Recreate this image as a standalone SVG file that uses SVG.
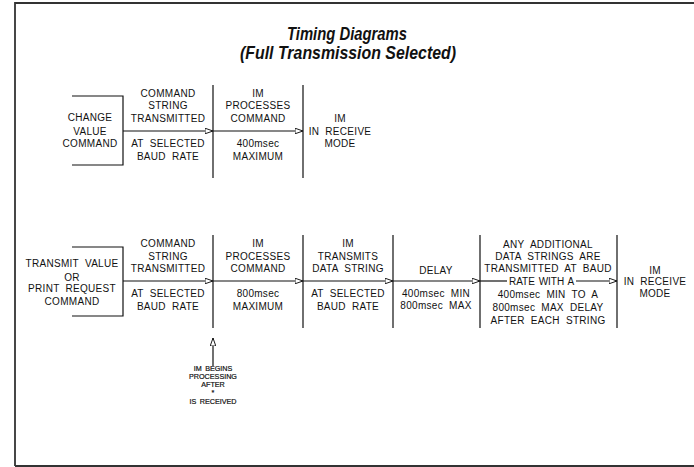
<svg xmlns="http://www.w3.org/2000/svg" width="694" height="467" viewBox="0 0 694 467">
<defs>
<style>
.t{font-family:"Liberation Sans",Arial,sans-serif;font-size:10px;fill:#111;text-anchor:middle;letter-spacing:0.3px;word-spacing:3px}
.s{font-family:"Liberation Sans",Arial,sans-serif;font-size:7.2px;fill:#111;text-anchor:middle;word-spacing:1.5px;stroke:#111;stroke-width:0.2}
.h{font-family:"Liberation Sans",Arial,sans-serif;font-size:18px;font-weight:bold;font-style:italic;fill:#111;text-anchor:middle}
.ln{stroke:#111;stroke-width:1.2;fill:none}
.ar{stroke:#111;stroke-width:1.2;fill:none;marker-end:url(#ah)}
</style>
<marker id="ah" viewBox="0 0 10 8" refX="10" refY="4" markerWidth="8" markerHeight="6.4" markerUnits="userSpaceOnUse" orient="auto">
<path d="M0,0.5 L10,4 L0,7.5 Z" fill="#fff" stroke="#111" stroke-width="1.2"/>
</marker>
</defs>
<rect x="0" y="0" width="694" height="467" fill="#fff"/>
<path d="M15,466 L15,3 L694,3 M15,466 L694,466" stroke="#333" stroke-width="1.8" fill="none"/>
<g id="title">
<text class="h" x="347" y="40" textLength="120" lengthAdjust="spacingAndGlyphs">Timing Diagrams</text>
<text class="h" x="348" y="59" textLength="216" lengthAdjust="spacingAndGlyphs">(Full Transmission Selected)</text>
</g>
<g id="connectors">
<path class="ln" d="M72,96 H123 V165 H72"/>
<path class="ln" d="M213,85 V178 M303,85 V178"/>
<path class="ar" d="M123,131 H213"/>
<path class="ar" d="M213,131 H303"/>
<path class="ln" d="M72,247 H123 V316 H72"/>
<path class="ln" d="M213,235 V328 M303,235 V328 M393,235 V328 M480,235 V328 M617,235 V328"/>
<path class="ar" d="M123,281 H213"/>
<path class="ar" d="M213,281 H303"/>
<path class="ar" d="M303,281 H393"/>
<path class="ar" d="M393,281 H480"/>
<path class="ln" d="M480,281 H507"/>
<path class="ar" d="M576,281 H617"/>
<path class="ar" d="M213,366 V338"/>
</g>
<g id="top-change">
<text class="t" x="90" y="121">CHANGE</text>
<text class="t" x="90" y="135">VALUE</text>
<text class="t" x="90" y="147">COMMAND</text>
</g>
<g id="top-command-string">
<text class="t" x="168" y="97">COMMAND</text>
<text class="t" x="168" y="109">STRING</text>
<text class="t" x="168" y="122">TRANSMITTED</text>
<text class="t" x="168" y="147">AT SELECTED</text>
<text class="t" x="168" y="160">BAUD RATE</text>
</g>
<g id="top-im-processes">
<text class="t" x="258" y="97">IM</text>
<text class="t" x="258" y="109">PROCESSES</text>
<text class="t" x="258" y="122">COMMAND</text>
<text class="t" x="258" y="147">400msec</text>
<text class="t" x="258" y="160">MAXIMUM</text>
</g>
<g id="top-im-receive">
<text class="t" x="340" y="122">IM</text>
<text class="t" x="340" y="135">IN RECEIVE</text>
<text class="t" x="340" y="147">MODE</text>
</g>
<g id="bot-transmit">
<text class="t" x="72" y="267">TRANSMIT VALUE</text>
<text class="t" x="72" y="281">OR</text>
<text class="t" x="72" y="292">PRINT REQUEST</text>
<text class="t" x="72" y="305">COMMAND</text>
</g>
<g id="bot-command-string">
<text class="t" x="168" y="247">COMMAND</text>
<text class="t" x="168" y="260">STRING</text>
<text class="t" x="168" y="272">TRANSMITTED</text>
<text class="t" x="168" y="297">AT SELECTED</text>
<text class="t" x="168" y="310">BAUD RATE</text>
</g>
<g id="bot-im-processes">
<text class="t" x="258" y="247">IM</text>
<text class="t" x="258" y="260">PROCESSES</text>
<text class="t" x="258" y="272">COMMAND</text>
<text class="t" x="258" y="297">800msec</text>
<text class="t" x="258" y="310">MAXIMUM</text>
</g>
<g id="bot-im-transmits">
<text class="t" x="348" y="247">IM</text>
<text class="t" x="348" y="260">TRANSMITS</text>
<text class="t" x="348" y="272">DATA STRING</text>
<text class="t" x="348" y="297">AT SELECTED</text>
<text class="t" x="348" y="310">BAUD RATE</text>
</g>
<g id="bot-delay">
<text class="t" x="436" y="274">DELAY</text>
<text class="t" x="436" y="297">400msec MIN</text>
<text class="t" x="436" y="309">800msec MAX</text>
</g>
<g id="bot-additional">
<text class="t" x="548" y="248">ANY ADDITIONAL</text>
<text class="t" x="548" y="260">DATA STRINGS ARE</text>
<text class="t" x="548" y="272">TRANSMITTED AT BAUD</text>
<text class="t" x="541.5" y="285" style="word-spacing:1px;letter-spacing:0">RATE WITH A</text>
<text class="t" x="548" y="298">400msec MIN TO A</text>
<text class="t" x="548" y="311">800msec MAX DELAY</text>
<text class="t" x="548" y="324">AFTER EACH STRING</text>
</g>
<g id="bot-im-receive">
<text class="t" x="655" y="274">IM</text>
<text class="t" x="655" y="285">IN RECEIVE</text>
<text class="t" x="655" y="297">MODE</text>
</g>
<g id="bot-note">
<text class="s" x="213" y="370.5">IM BEGINS</text>
<text class="s" x="213" y="378.8">PROCESSING</text>
<text class="s" x="213" y="387.1">AFTER</text>
<text class="s" x="213" y="395.4">*</text>
<text class="s" x="213" y="403.7">IS RECEIVED</text>
</g>
</svg>
